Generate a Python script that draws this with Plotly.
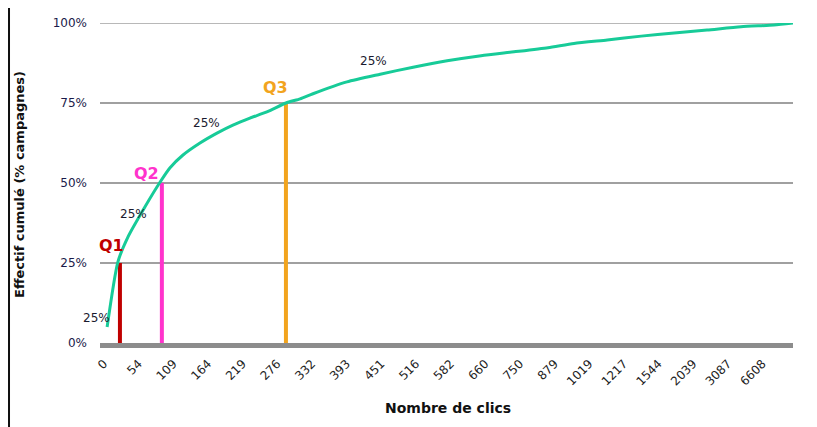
import plotly.graph_objects as go

# Category tick labels (number of clicks)
tick_labels = ["0", "54", "109", "164", "219", "276", "332", "393", "451", "516",
               "582", "660", "750", "879", "1019", "1217", "1544", "2039", "3087", "6608"]
tick_pos = list(range(len(tick_labels)))

# Cumulative curve: position on the category axis and cumulative % of campaigns
curve_pos = [0.09, 0.40, 0.69, 1.18, 1.62, 1.90, 2.28, 2.77, 3.26, 3.72, 4.21, 4.70,
             5.25, 5.66, 6.03, 7.01, 7.97, 8.92, 9.90, 10.88, 11.83, 12.81, 13.56,
             14.52, 15.50, 16.45, 17.40, 18.38, 19.33, 19.88]
curve_pct = [5.0, 25.3, 33.1, 42.5, 50.3, 54.7, 58.75, 62.5, 65.6, 68.1, 70.3, 72.2,
             75.0, 76.3, 77.9, 81.6, 84.0, 86.2, 88.2, 89.8, 91.0, 92.3, 93.6, 94.7,
             95.9, 96.9, 97.8, 98.8, 99.4, 100.0]

# Quartiles
q_names = ["Q1", "Q2", "Q3"]
q_pos = [0.46, 1.67, 5.25]
q_pct = [25, 50, 75]
q_colors = ["#C00000", "#FF33CC", "#F2A41E"]

# Share labels (anchor on the axis + pixel shift for the one left of the first tick)
share_text = ["25%", "25%", "25%", "25%"]
share_pos = [0.0, 0.84, 2.97, 7.79]
share_pct = [7.8, 40.3, 68.75, 88.1]
share_xshift = [-7, 0, 0, 0]

q_label_pos = [0.23, 1.24, 4.96]
q_label_pct = [30.6, 53.1, 79.7]

y_ticks = [0, 25, 50, 75, 100]
y_tick_text = ["0%", "25%", "50%", "75%", "100%"]

fig = go.Figure()

for name, xp, yp, col in zip(q_names, q_pos, q_pct, q_colors):
    fig.add_trace(go.Scatter(x=[xp, xp], y=[0, yp], mode="lines",
                             line=dict(color=col, width=4), showlegend=False,
                             hoverinfo="skip"))

fig.add_trace(go.Scatter(x=curve_pos, y=curve_pct, mode="lines",
                         line=dict(color="#17CB98", width=3, shape="spline",
                                   smoothing=0.6),
                         showlegend=False, cliponaxis=False))

annotations = []
for name, xp, yp, col in zip(q_names, q_label_pos, q_label_pct, q_colors):
    annotations.append(dict(x=xp, y=yp, xref="x", yref="y", text=name, showarrow=False,
                            font=dict(family="DejaVu Sans", size=16, color=col,
                                      weight="bold")))
for t, xp, yp, xs in zip(share_text, share_pos, share_pct, share_xshift):
    annotations.append(dict(x=xp, y=yp, xref="x", yref="y", text=t, showarrow=False,
                            xshift=xs,
                            font=dict(family="DejaVu Sans", size=12, color="#1a1a2e")))

annotations.append(dict(x=0.502, y=-0.203, xref="paper", yref="paper",
                        text="Nombre de clics", showarrow=False, yanchor="middle",
                        font=dict(family="DejaVu Sans", size=14, color="#111",
                                  weight="bold")))
annotations.append(dict(x=-0.1154, y=0.494, xref="paper", yref="paper",
                        text="Effectif cumulé (% campagnes)", showarrow=False,
                        textangle=-90, xanchor="center", yanchor="middle",
                        font=dict(family="DejaVu Sans", size=13, color="#111",
                                  weight="bold")))

# page body has an 8px margin: size the figure so the plot area lands where wanted
fig.update_layout(
    width=809, height=419,
    margin=dict(l=92, r=24, t=15, b=84, autoexpand=False),
    paper_bgcolor="white", plot_bgcolor="white",
    annotations=annotations,
    shapes=[
        dict(type="line", xref="paper", yref="paper", x0=-0.1313, x1=-0.1313,
             y0=-0.27, y1=1.08, line=dict(color="#111", width=2)),
        dict(type="line", xref="paper", yref="y", x0=0, x1=1, y0=100, y1=100,
             layer="below", line=dict(color="#A0A0A0", width=1.5)),
    ],
    xaxis=dict(range=[-0.115, 19.88], tickmode="array", tickvals=tick_pos,
               ticktext=tick_labels, tickangle=-45, showgrid=False, zeroline=False,
               showline=True, linecolor="#8C8C8C", linewidth=5, ticks="",
               ticklabelstandoff=4,
               tickfont=dict(family="DejaVu Sans", size=12, color="#222")),
    yaxis=dict(range=[0, 100], tickmode="array", tickvals=y_ticks,
               ticktext=y_tick_text, showgrid=True, gridcolor="#A0A0A0", gridwidth=1.5,
               zeroline=False, showline=False, ticks="", ticklabelstandoff=12,
               tickfont=dict(family="DejaVu Sans", size=12, color="#1a1a4a")),
)

fig.write_html("out.html")
